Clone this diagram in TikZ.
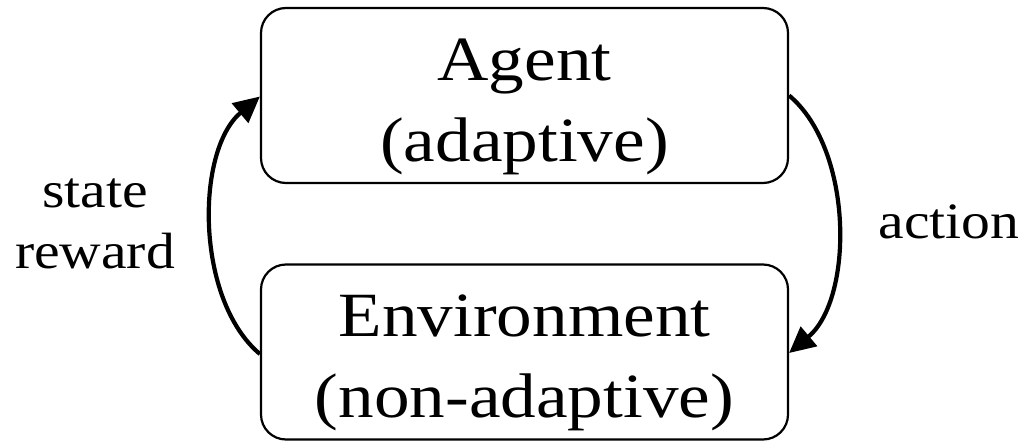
\documentclass[tikz,border=0pt]{standalone}
\usepackage{fontspec}
\setmainfont{Liberation Serif}[FakeStretch=1.13]
\usetikzlibrary{arrows.meta}
\begin{document}
\begin{tikzpicture}[x=1pt,y=1pt,
  box/.style={draw, line width=2.2pt, rounded corners=25pt, inner sep=0pt,
    minimum width=527pt, minimum height=175pt, align=center,
    font=\fontsize{63pt}{81pt}\selectfont, text height=142pt, text depth=11pt},
  lbl/.style={align=center, inner sep=0pt, font=\fontsize{51pt}{61pt}\selectfont},
  flow/.style={line width=4.2pt, -{Triangle[length=26pt,width=25pt]}}]
\useasboundingbox (0,0) rectangle (1030,440);
\node[box] (agent) at (524.5,344.5) {Agent\\(adaptive)};
\node[box] (env) at (524.5,88) {Environment\\(non-adaptive)};
\node[lbl, anchor=base] (sr) at (95,172) {state\\reward};
\node[lbl, anchor=base] (act) at (949,202) {action};
\draw[flow] ([yshift=-2pt]env.west) to[out=140,in=220,looseness=0.84] ([yshift=-1pt]agent.west);
\draw[flow] (agent.east) to[out=-40,in=40,looseness=0.84] ([yshift=-1pt]env.east);
\end{tikzpicture}
\end{document}
